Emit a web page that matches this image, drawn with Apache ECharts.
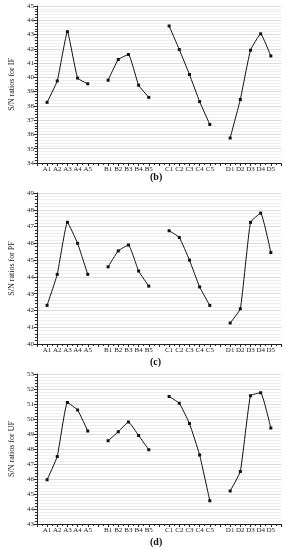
<!DOCTYPE html>
<html><head><meta charset="utf-8">
<script src="https://cdn.jsdelivr.net/npm/echarts@6/dist/echarts.min.js"></script>
<style>html,body{margin:0;padding:0;background:#fff}#c{width:286px;height:550px}</style>
</head><body><div id="c"></div>
<script>
var categories = ['', 'A1','A2','A3','A4','A5','', 'B1','B2','B3','B4','B5','', 'C1','C2','C3','C4','C5','', 'D1','D2','D3','D4','D5',''];
var sn_IF = [null, 38.25,39.75,43.2,39.95,39.55, null, 39.8,41.25,41.6,39.45,38.6, null, 43.6,41.95,40.2,38.3,36.7, null, 35.75,38.45,41.9,43.05,41.5, null];
var sn_PF = [null, 42.3,44.15,47.25,46.0,44.15, null, 44.6,45.55,45.9,44.35,43.45, null, 46.75,46.35,45.0,43.4,42.3, null, 41.25,42.1,47.25,47.8,45.45, null];
var sn_UF = [null, 45.95,47.5,51.1,50.6,49.2, null, 48.55,49.15,49.8,48.9,47.95, null, 51.5,51.05,49.7,47.6,44.55, null, 45.2,46.5,51.55,51.75,49.4, null];
var yNames = ['S/N ratios for IF', 'S/N ratios for PF', 'S/N ratios for UF'];
var yRanges = [[34,45],[40,49],[43,53]];
var panelLabels = ['(b)','(c)','(d)'];

var font = 'Liberation Serif';
var grids = [
  {left:26, right:5, top:6, height:157},
  {left:29, right:5, top:193, height:151},
  {left:30, right:5, top:374, height:150}
];
var labelY = [178, 363, 543];
var series = [sn_IF, sn_PF, sn_UF];
var xAxes = [], yAxes = [], ser = [], graphic = [];
grids.forEach(function(g, k){
  xAxes.push({
    type:'value', gridIndex:k, min:0, max:categories.length-1, interval:1,
    axisLine:{lineStyle:{color:'#222', width:1}},
    axisTick:{show:true, length:3, lineStyle:{color:'#222'}},
    minorTick:{show:true, splitNumber:2, length:2, lineStyle:{color:'#222'}},
    splitLine:{show:false},
    axisLabel:{fontFamily:font, fontSize:7, color:'#222', margin:3,
      formatter:function(v){return categories[v]||'';}, showMinLabel:true, showMaxLabel:true}
  });
  yAxes.push({
    type:'value', gridIndex:k, min:yRanges[k][0], max:yRanges[k][1], interval:1,
    name:yNames[k], nameLocation:'middle', nameGap:13, nameRotate:90,
    nameTextStyle:{fontFamily:font, fontSize:8, color:'#222'},
    axisLine:{show:true, lineStyle:{color:'#222', width:1}},
    axisTick:{show:true, length:3, lineStyle:{color:'#222'}},
    minorTick:{show:true, splitNumber:5, length:2, lineStyle:{color:'#222'}},
    splitLine:{show:true, lineStyle:{color:'#dcdcdc', width:1}},
    minorSplitLine:{show:true, lineStyle:{color:'#eeeeee', width:1}},
    axisLabel:{fontFamily:font, fontSize:7, color:'#222', margin:3}
  });
  ser.push({
    type:'line', xAxisIndex:k, yAxisIndex:k,
    data: series[k].map(function(v,i){return [i, v];}),
    connectNulls:false, smooth:0.12,
    symbol:'rect', symbolSize:3, showSymbol:true,
    itemStyle:{color:'#111'}, lineStyle:{color:'#111', width:1}
  });
  graphic.push({type:'text', left:150, top:labelY[k]-6,
    style:{text:panelLabels[k], font:'bold 10px "Liberation Serif"', fill:'#111'}});
});
var chart = echarts.init(document.getElementById('c'), null, {renderer:'canvas'});
chart.setOption({
  animation:false, backgroundColor:'#fff',
  grid:grids, xAxis:xAxes, yAxis:yAxes, series:ser, graphic:graphic
});
</script></body></html>
